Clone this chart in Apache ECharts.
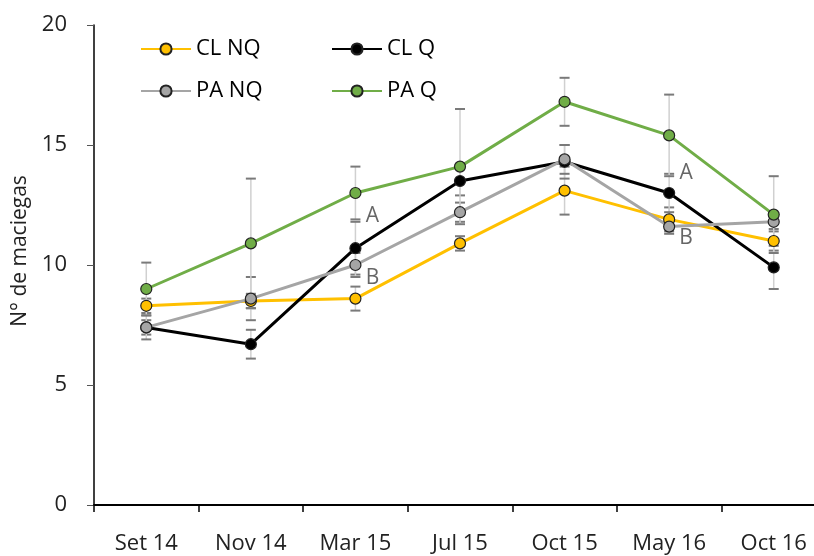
<!DOCTYPE html>
<html>
<head>
<meta charset="utf-8">
<script src="https://cdn.jsdelivr.net/npm/echarts@6/dist/echarts.min.js"></script>
<style>
  html, body { margin: 0; padding: 0; background: #fff; overflow: hidden; }
  /* the plot area runs slightly past the right edge of the window */
  #chart { width: 826px; height: 556px; }
</style>
</head>
<body>
<div id="chart"></div>
<script>
// Sampling dates
const categories = ['Set 14', 'Nov 14', 'Mar 15', 'Jul 15', 'Oct 15', 'May 16', 'Oct 16'];
const yTicks = [0, 5, 10, 15, 20];

// Mean number of tussocks per treatment
const clNQ = [8.3, 8.5, 8.6, 10.9, 13.1, 11.9, 11.0];
const clQ  = [7.4, 6.7, 10.7, 13.5, 14.3, 13.0, 9.9];
const paNQ = [7.4, 8.6, 10.0, 12.2, 14.4, 11.6, 11.8];
const paQ  = [9.0, 10.9, 13.0, 14.1, 16.8, 15.4, 12.1];

// Standard errors
const clNQErr = [0.3, 0.3, 0.5, 0.3, 1.0, 0.5, 0.4];
const clQErr  = [0.3, 0.6, 1.1, 0.6, 0.7, 0.8, 0.9];
const paNQErr = [0.5, 0.9, 0.5, 0.4, 0.6, 0.3, 0.3];
const paQErr  = [1.1, 2.7, 1.1, 2.4, 1.0, 1.7, 1.6];

// Significance letters: [category index, value, letter]
const letters = [
  [2, 12.06, 'A'],
  [2, 9.44, 'B'],
  [5, 13.85, 'A'],
  [5, 11.14, 'B']
];

const FONT = 'Open Sans';
const seriesDefs = [
  { name: 'CL NQ', data: clNQ, err: clNQErr, color: '#FFC000' },
  { name: 'CL Q',  data: clQ,  err: clQErr,  color: '#000000' },
  { name: 'PA NQ', data: paNQ, err: paNQErr, color: '#A5A5A5' },
  { name: 'PA Q',  data: paQ,  err: paQErr,  color: '#70AD47' }
];

function errorBarSeries(def) {
  const rows = def.data.map((v, i) => [i, v - def.err[i], v + def.err[i]]);
  return {
    type: 'custom',
    name: def.name + ' err',
    silent: true,
    z: 1,
    data: rows,
    renderItem: function (params, api) {
      const lo = api.coord([api.value(0), api.value(1)]);
      const hi = api.coord([api.value(0), api.value(2)]);
      const hw = 5;
      return {
        type: 'group',
        children: [
          { type: 'line', shape: { x1: lo[0], y1: lo[1], x2: hi[0], y2: hi[1] },
            style: { stroke: '#d0d0d0', lineWidth: 1.5 } },
          { type: 'line', shape: { x1: hi[0] - hw, y1: hi[1], x2: hi[0] + hw, y2: hi[1] },
            style: { stroke: '#7a7a7a', lineWidth: 2 } },
          { type: 'line', shape: { x1: lo[0] - hw, y1: lo[1], x2: lo[0] + hw, y2: lo[1] },
            style: { stroke: '#7a7a7a', lineWidth: 2 } }
        ]
      };
    }
  };
}

const lineSeries = seriesDefs.map(def => ({
  type: 'line',
  name: def.name,
  data: def.data,
  z: 3,
  symbol: 'circle',
  symbolSize: 11,
  lineStyle: { color: def.color, width: 3 },
  itemStyle: { color: def.color, borderColor: '#222', borderWidth: 1.2 }
}));

const option = {
  animation: false,
  backgroundColor: '#ffffff',
  textStyle: { fontFamily: FONT },
  grid: { left: 94, top: 25, right: 0, bottom: 51, containLabel: false },
  legend: [
    {
      data: ['CL NQ', 'PA NQ'],
      orient: 'vertical',
      left: 135, top: 33,
      itemWidth: 50, itemHeight: 14, itemGap: 20,
      textStyle: { fontFamily: FONT, fontSize: 22, color: '#000' }
    },
    {
      data: ['CL Q', 'PA Q'],
      orient: 'vertical',
      left: 326, top: 33,
      itemWidth: 50, itemHeight: 14, itemGap: 20,
      textStyle: { fontFamily: FONT, fontSize: 22, color: '#000' }
    }
  ],
  xAxis: {
    type: 'category',
    data: categories,
    boundaryGap: true,
    axisLine: { lineStyle: { color: '#000', width: 2 } },
    axisTick: { show: true, length: 7, inside: false, lineStyle: { color: '#000', width: 1.5 } },
    axisLabel: { fontFamily: FONT, fontSize: 22, color: '#222', margin: 28 }
  },
  yAxis: {
    type: 'value',
    min: yTicks[0],
    max: yTicks[yTicks.length - 1],
    interval: 5,
    name: 'N° de maciegas',
    nameLocation: 'middle',
    nameGap: 49,
    nameTextStyle: { fontFamily: FONT, fontSize: 21, color: '#222', padding: [0, 0, 0, 28] },
    axisLine: { show: true, lineStyle: { color: '#000', width: 1.5 } },
    axisTick: { show: true, length: 7, lineStyle: { color: '#555', width: 1 } },
    splitLine: { show: false },
    axisLabel: { fontFamily: FONT, fontSize: 22, color: '#222', margin: 27 }
  },
  series: [
    ...seriesDefs.map(errorBarSeries),
    ...lineSeries,
    {
      type: 'scatter',
      name: 'letters',
      silent: true,
      z: 4,
      symbolSize: 1,
      itemStyle: { color: 'rgba(0,0,0,0)' },
      data: letters.map(l => ({ value: [l[0], l[1]], letter: l[2] })),
      label: {
        show: true,
        position: 'inside',
        offset: [17, 0],
        fontFamily: FONT,
        fontSize: 21,
        color: '#404040',
        formatter: p => p.data.letter
      }
    }
  ]
};

const chart = echarts.init(document.getElementById('chart'), null, { renderer: 'canvas' });
chart.setOption(option);
</script>
</body>
</html>
